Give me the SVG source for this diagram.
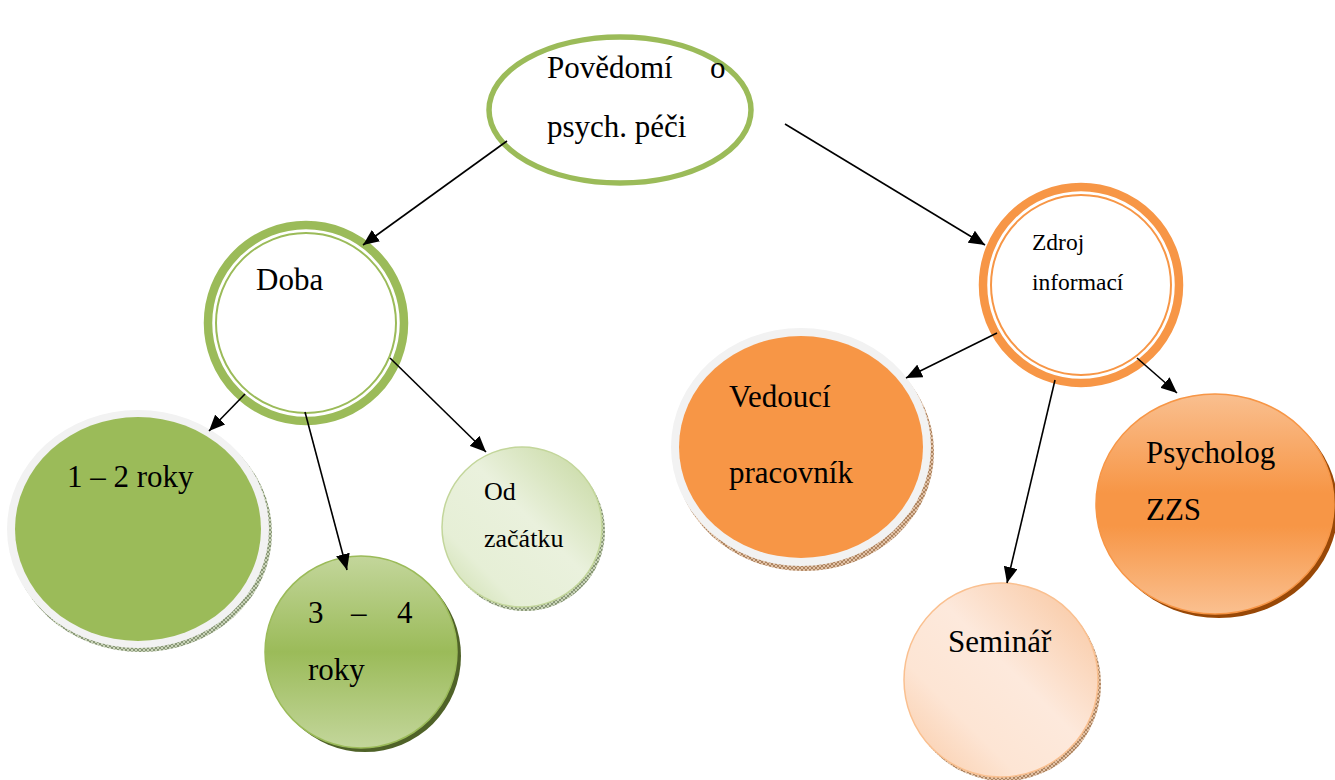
<svg xmlns="http://www.w3.org/2000/svg" width="1335" height="780" viewBox="0 0 1335 780">
  <style>
    .t { font-family: "Liberation Serif", "Times New Roman", serif; fill: #000; }
    .big { font-size: 31px; }
    .mid { font-size: 26px; }
    .sm { font-size: 23.5px; }
    .link { stroke: #000; stroke-width: 1.6; fill: none; marker-end: url(#arrow); }
  </style>
  <defs>
    <marker id="arrow" markerUnits="userSpaceOnUse" markerWidth="18" markerHeight="14" refX="16" refY="7" orient="auto">
      <path d="M0,0 L16,7 L0,14 z" fill="#000"/>
    </marker>
    <pattern id="hatchGreen" width="4" height="4" patternUnits="userSpaceOnUse">
      <rect width="4" height="4" fill="#c9d4b8"/>
      <path d="M0,4 L4,0 M0,0 L4,4" stroke="#5d6b4a" stroke-width="0.6"/>
    </pattern>
    <pattern id="hatchBrown" width="4" height="4" patternUnits="userSpaceOnUse">
      <rect width="4" height="4" fill="#e2c2a6"/>
      <path d="M0,4 L4,0 M0,0 L4,4" stroke="#8a5a30" stroke-width="0.6"/>
    </pattern>
    <linearGradient id="gradGreen" x1="0" y1="0" x2="0" y2="1">
      <stop offset="0" stop-color="#c3d69b"/>
      <stop offset="0.5" stop-color="#9bbb59"/>
      <stop offset="1" stop-color="#c3d69b"/>
    </linearGradient>
    <linearGradient id="gradPaleGreen" x1="1" y1="0" x2="0" y2="1">
      <stop offset="0" stop-color="#c3d69b"/>
      <stop offset="0.45" stop-color="#eaf1dd"/>
      <stop offset="0.75" stop-color="#e6efd6"/>
      <stop offset="1" stop-color="#c9dba6"/>
    </linearGradient>
    <linearGradient id="gradOrange" x1="0" y1="0" x2="0" y2="1">
      <stop offset="0" stop-color="#f9bf8f"/>
      <stop offset="0.45" stop-color="#f79646"/>
      <stop offset="0.6" stop-color="#f79646"/>
      <stop offset="1" stop-color="#fac090"/>
    </linearGradient>
    <linearGradient id="gradPeach" x1="1" y1="0" x2="0" y2="1">
      <stop offset="0" stop-color="#f8c39a"/>
      <stop offset="0.45" stop-color="#fde9dc"/>
      <stop offset="0.7" stop-color="#fde5d4"/>
      <stop offset="1" stop-color="#f9c8a2"/>
    </linearGradient>
  </defs>

  <g id="node-povedomi">
    <ellipse cx="620" cy="110" rx="131" ry="73" fill="#fff" stroke="#9bbb59" stroke-width="5.5"/>
    <text class="t big" x="547" y="78">Povědomí</text>
    <text class="t big" x="710" y="78">o</text>
    <text class="t big" x="547" y="137">psych. péči</text>
  </g>

  <g id="node-doba">
    <circle cx="306" cy="323" r="98" fill="#fff" stroke="#9bbb59" stroke-width="8.5"/>
    <circle cx="306" cy="323" r="90" fill="none" stroke="#9bbb59" stroke-width="2"/>
    <text class="t big" x="256" y="290">Doba</text>
  </g>

  <g id="node-zdroj">
    <circle cx="1081" cy="285" r="98" fill="#fff" stroke="#f79646" stroke-width="8.5"/>
    <circle cx="1081" cy="285" r="90" fill="none" stroke="#f79646" stroke-width="2"/>
    <text class="t sm" x="1032" y="250">Zdroj</text>
    <text class="t sm" x="1032" y="290">informací</text>
  </g>

  <g id="node-1-2-roky">
    <ellipse cx="141" cy="533" rx="131" ry="119" fill="url(#hatchGreen)"/>
    <ellipse cx="138" cy="529" rx="131" ry="119" fill="#f2f2f2"/>
    <ellipse cx="138" cy="529" rx="123" ry="112" fill="#9bbb59"/>
    <text class="t big" x="67" y="487">1 – 2 roky</text>
  </g>

  <g id="node-3-4-roky">
    <circle cx="365" cy="656" r="96" fill="#4f6228"/>
    <circle cx="361" cy="652" r="96" fill="url(#gradGreen)" stroke="#9bbb59" stroke-width="1.5"/>
    <text class="t big" x="308" y="623">3</text>
    <text class="t big" x="351" y="623">–</text>
    <text class="t big" x="397" y="623">4</text>
    <text class="t big" x="308" y="680">roky</text>
  </g>

  <g id="node-od-zacatku">
    <circle cx="525" cy="531" r="80" fill="url(#hatchGreen)"/>
    <circle cx="522" cy="527" r="80" fill="url(#gradPaleGreen)" stroke="#c3d69b" stroke-width="1.5"/>
    <text class="t mid" x="484" y="500">Od</text>
    <text class="t mid" x="484" y="547">začátku</text>
  </g>

  <g id="node-vedouci">
    <ellipse cx="804" cy="452" rx="130" ry="119" fill="url(#hatchBrown)"/>
    <ellipse cx="801" cy="447" rx="130" ry="119" fill="#f2f2f2"/>
    <ellipse cx="801" cy="447" rx="122" ry="111" fill="#f79646"/>
    <text class="t big" x="729" y="407">Vedoucí</text>
    <text class="t big" x="729" y="483">pracovník</text>
  </g>

  <g id="node-seminar">
    <circle cx="1004" cy="684" r="97" fill="url(#hatchBrown)"/>
    <circle cx="1001" cy="680" r="97" fill="url(#gradPeach)" stroke="#fac090" stroke-width="1.5"/>
    <text class="t big" x="948" y="652">Seminář</text>
  </g>

  <g id="node-psycholog">
    <ellipse cx="1219" cy="508" rx="119" ry="110" fill="#984807"/>
    <ellipse cx="1215" cy="504" rx="119" ry="110" fill="url(#gradOrange)" stroke="#f79646" stroke-width="1.5"/>
    <text class="t big" x="1146" y="463">Psycholog</text>
    <text class="t big" x="1146" y="520">ZZS</text>
  </g>

  <!-- connectors drawn last so arrowheads sit over the circle rims -->
  <g id="connectors">
    <line class="link" x1="507" y1="141" x2="363" y2="245"/>
    <line class="link" x1="785" y1="124" x2="985" y2="245"/>
    <line class="link" x1="245" y1="394" x2="209" y2="431"/>
    <line class="link" x1="305" y1="412" x2="347" y2="570"/>
    <line class="link" x1="390" y1="358" x2="486" y2="452"/>
    <line class="link" x1="997" y1="333" x2="906" y2="378"/>
    <line class="link" x1="1055" y1="380" x2="1007" y2="583"/>
    <line class="link" x1="1137" y1="358" x2="1177" y2="393"/>
  </g>
</svg>
